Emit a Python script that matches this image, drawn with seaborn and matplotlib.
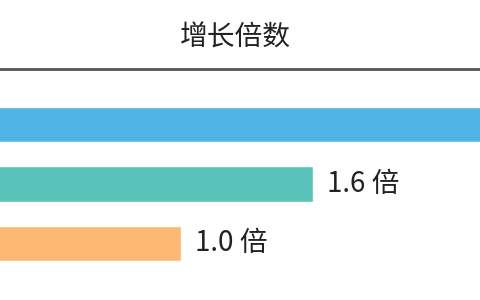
import matplotlib
matplotlib.use("Agg")
import matplotlib.pyplot as plt
import seaborn as sns
import pandas as pd

categories = ["A", "B", "C"]
values = [2.8, 1.6, 1.0]
labels = ["", "1.6 倍", "1.0 倍"]
colors = ["#50B4E6", "#5AC3B9", "#FDB973"]
title = "增长倍数"

sns.set_theme(style="white")
plt.rcParams['font.family'] = ['Noto Sans CJK SC', 'DejaVu Sans']

df = pd.DataFrame({"cat": categories, "val": values})

fig = plt.figure(figsize=(4.8, 3.0), dpi=100)
W, H = 480, 300
px_per_unit = 220
xmax = 3.2
ax = fig.add_axes([-39 / W, 0, xmax * px_per_unit / W, 231 / H])

sns.barplot(data=df, y="cat", x="val", hue="cat", palette=colors,
            orient="h", width=0.6, legend=False, ax=ax, saturation=1)
ax.set_xlim(0, xmax)
ax.set_ylim(2.95, -0.93)
ax.set_xlabel("")
ax.set_ylabel("")
ax.set_xticks([])
ax.set_yticks([])
for s in ["left", "right", "bottom"]:
    ax.spines[s].set_visible(False)
ax.spines["top"].set_color("#555555")
ax.spines["top"].set_linewidth(2)

for i, (v, lab) in enumerate(zip(values, labels)):
    if lab:
        ax.annotate(lab, xy=(v, i), xytext=(14, 0), textcoords="offset pixels",
                    va="center", ha="left", fontsize=20, color="#222222")

fig.text(235 / W, 1 - 38 / H, title, ha="center", va="center",
         fontsize=20, color="#222222")

fig.savefig("out.png", dpi=100)
